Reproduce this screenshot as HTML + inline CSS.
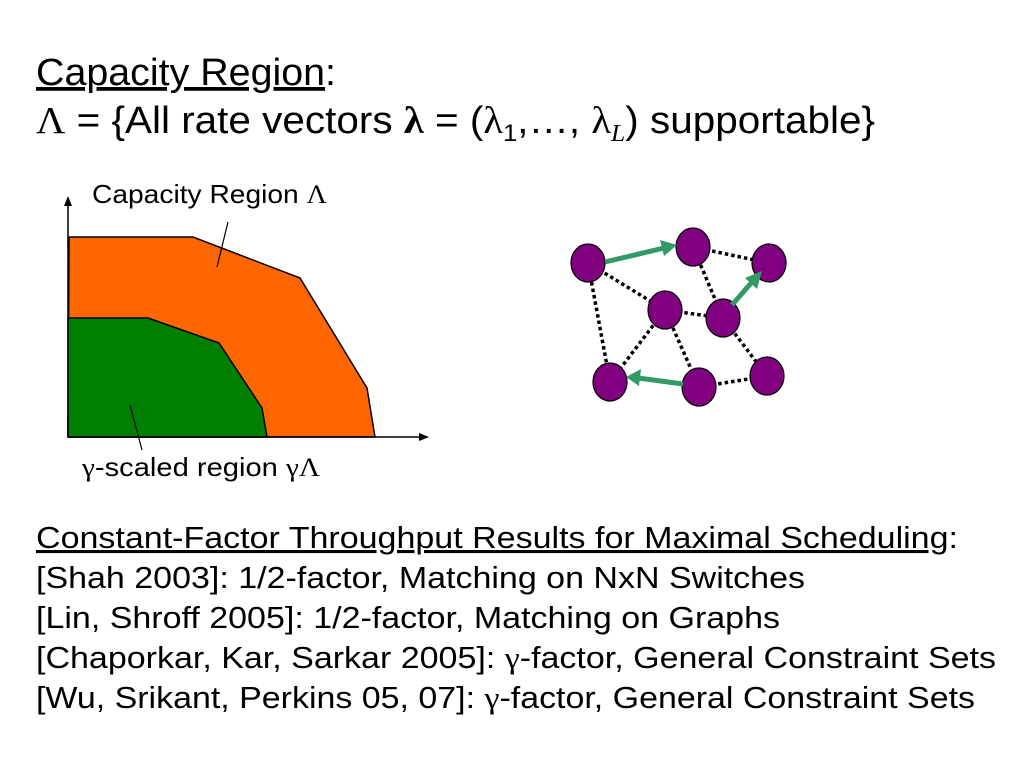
<!DOCTYPE html>
<html><head><meta charset="utf-8"><style>
body{margin:0;background:#fff}
svg{display:block}
text{font-family:"Liberation Sans",sans-serif;fill:#000}
.s{font-family:"Liberation Serif",serif}
</style></head><body>
<svg width="1024" height="768" viewBox="0 0 1024 768">
<g>
<text x="36" y="85" font-size="38" textLength="300" lengthAdjust="spacingAndGlyphs"><tspan text-decoration="underline">Capacity Region</tspan>:</text>
<text x="36" y="133" font-size="38" textLength="839" lengthAdjust="spacingAndGlyphs"><tspan class="s">Λ</tspan> = {All rate vectors  <tspan class="s" font-weight="bold">λ</tspan> = (<tspan class="s">λ</tspan><tspan font-size="24" dy="8">1</tspan><tspan dy="-8">,…, </tspan><tspan class="s">λ</tspan><tspan class="s" font-style="italic" font-size="24" dy="8">L</tspan><tspan dy="-8">) supportable}</tspan></text>
</g>
<g>
<polygon points="69,237 193,237 300,278 367,388 375,437 68,437" fill="#ff6600" stroke="#000" stroke-width="1.5"/>
<polygon points="68,318 148,318 219,343 262,408 267,437 68,437" fill="#008000" stroke="#000" stroke-width="1.5"/>
<line x1="68" y1="437" x2="68" y2="203" stroke="#000" stroke-width="1.5"/>
<polygon points="68,196 64,206 72,206" fill="#000"/>
<line x1="68" y1="437" x2="422" y2="437" stroke="#000" stroke-width="1.5"/>
<polygon points="429,437 419,433 419,441" fill="#000"/>
<line x1="228" y1="222" x2="217" y2="267" stroke="#000" stroke-width="1.2"/>
<line x1="130" y1="405" x2="142" y2="450" stroke="#000" stroke-width="1.2"/>
<text x="92" y="203" font-size="26" textLength="235" lengthAdjust="spacingAndGlyphs">Capacity Region <tspan class="s">Λ</tspan></text>
<text x="82" y="476" font-size="26" textLength="238" lengthAdjust="spacingAndGlyphs"><tspan class="s">γ</tspan>-scaled region <tspan class="s">γΛ</tspan></text>
</g>
<g stroke="#000" stroke-width="3.5" stroke-dasharray="3.5,3">
<line x1="693" y1="247" x2="769" y2="263"/>
<line x1="588" y1="263" x2="665" y2="310"/>
<line x1="588" y1="263" x2="610" y2="382"/>
<line x1="665" y1="310" x2="723" y2="318"/>
<line x1="693" y1="247" x2="723" y2="318"/>
<line x1="665" y1="310" x2="610" y2="382"/>
<line x1="665" y1="310" x2="699" y2="387"/>
<line x1="723" y1="318" x2="767" y2="376"/>
<line x1="699" y1="387" x2="767" y2="376"/>
</g>
<g fill="#800080" stroke="#000" stroke-width="1.2">
<ellipse cx="588" cy="263" rx="17" ry="19"/>
<ellipse cx="693" cy="247" rx="17" ry="19"/>
<ellipse cx="769" cy="263" rx="17" ry="19"/>
<ellipse cx="665" cy="310" rx="17" ry="19"/>
<ellipse cx="723" cy="318" rx="17" ry="19"/>
<ellipse cx="610" cy="382" rx="17" ry="19"/>
<ellipse cx="699" cy="387" rx="17" ry="19"/>
<ellipse cx="767" cy="376" rx="17" ry="19"/>
</g>
<g stroke="#339966" fill="#339966" stroke-width="5">
<line x1="605" y1="262" x2="664" y2="248"/><polygon stroke="none" points="677,245 660,240 664,256"/>
<line x1="732" y1="305" x2="752" y2="282"/><polygon stroke="none" points="762,271 745,278 757,289"/>
<line x1="683" y1="384" x2="638" y2="378"/><polygon stroke="none" points="626,377 641,369 639,386"/>
</g>
<g>
<text x="36" y="548" font-size="31" textLength="922" lengthAdjust="spacingAndGlyphs"><tspan text-decoration="underline">Constant-Factor Throughput Results for Maximal Scheduling</tspan>:</text>
<text x="36" y="588" font-size="31" textLength="769" lengthAdjust="spacingAndGlyphs">[Shah 2003]: 1/2-factor, Matching on NxN Switches</text>
<text x="36" y="628" font-size="31" textLength="744" lengthAdjust="spacingAndGlyphs">[Lin, Shroff 2005]: 1/2-factor, Matching on Graphs</text>
<text x="36" y="668" font-size="31" textLength="960" lengthAdjust="spacingAndGlyphs">[Chaporkar, Kar, Sarkar 2005]: <tspan class="s">γ</tspan>-factor, General Constraint Sets</text>
<text x="36" y="708" font-size="31" textLength="939" lengthAdjust="spacingAndGlyphs">[Wu, Srikant, Perkins 05, 07]: <tspan class="s">γ</tspan>-factor, General Constraint Sets</text>
</g>
</svg>
</body></html>
